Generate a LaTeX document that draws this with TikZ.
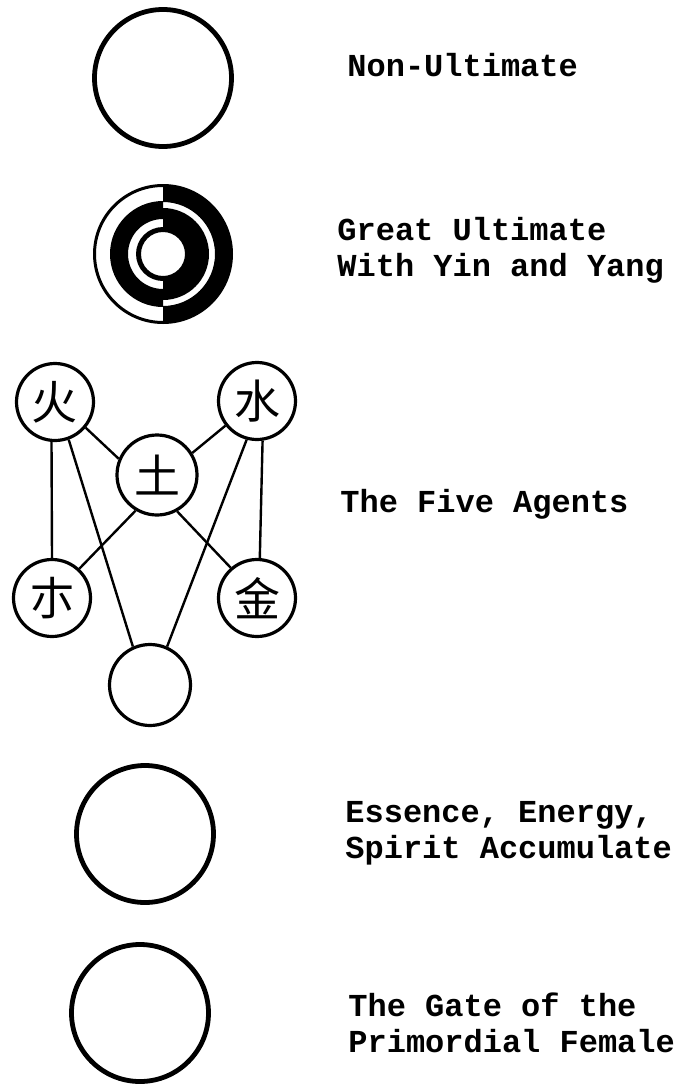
\documentclass[tikz,border=0pt]{standalone}
\usepackage{fontspec}
\setmonofont{Liberation Mono}
\newfontfamily\cjk{Noto Sans CJK SC}

\begin{document}
\begin{tikzpicture}[x=0.5pt,y=-0.5pt,
  big/.style={circle,draw,line width=2.4pt,inner sep=0pt,minimum size=68.5pt},
  agent/.style={circle,draw,line width=1.6pt,inner sep=0pt,minimum size=38.5pt,font=\cjk\fontsize{23}{23}\selectfont},
  lbl/.style={anchor=base west,inner sep=0pt,font=\ttfamily\bfseries\fontsize{16}{17.5}\selectfont},
  link/.style={line width=1.2pt},
]
\useasboundingbox (0,0) rectangle (681,1086);

% ---------------- Non-Ultimate ----------------
\coordinate (C1) at (163,78);
\node[big] (nonult) at (C1) {};
\node[lbl] (t1) at (347,76) {Non-Ultimate};

% ---------------- Great Ultimate ----------------
\coordinate (C2) at (163,254);
\begin{scope}
  \clip (90,180) rectangle (163,330);
  \fill[even odd rule] (C2) circle (70) (C2) circle (67) (C2) circle (53)
    (C2) circle (35) (C2) circle (27) (C2) circle (22);
\end{scope}
\begin{scope}
  \clip (163,180) rectangle (240,330);
  \fill[even odd rule] (C2) circle (70) (C2) circle (52) (C2) circle (46) (C2) circle (22);
\end{scope}
\node[lbl] (t2a) at (337,240) {Great Ultimate};
\node[lbl] (t2b) at (337,276) {With Yin and Yang};

% ---------------- Five Agents ----------------
\coordinate (fc) at (55,402);
\coordinate (wc) at (257,401);
\coordinate (ec) at (157,475);
\coordinate (mc) at (52,598);
\coordinate (jc) at (257,598);
\coordinate (hc) at (150,685);
\node[agent] (fire) at (fc) {火};
\node[agent] (water) at (wc) {水};
\node[agent,minimum size=40pt] (earth) at (ec) {土};
\node[agent] (wood) at (mc) {朩};
\node[agent] (metal) at (jc) {金};
\node[agent,minimum size=40.5pt] (hub) at (hc) {};
\draw[link] (fire.-95) -- (wood.90);
\draw[link] (fire.-40) -- (earth.157);
\draw[link] (fire.-70) -- (hub.114);
\draw[link] (water.-82) -- (metal.86);
\draw[link] (water.218) -- (earth.32);
\draw[link] (water.-105) -- (hub.66);
\draw[link] (earth.239) -- (wood.47);
\draw[link] (earth.-61) -- (metal.131);
\node[lbl] (t3) at (340,512) {The Five Agents};

% ---------------- Essence / Gate ----------------
\coordinate (C4) at (145,834);
\coordinate (C5) at (140,1013);
\node[big] (jing) at (C4) {};
\node[big] (gate) at (C5) {};
\node[lbl] (t4a) at (345,822) {Essence, Energy,};
\node[lbl] (t4b) at (345,858) {Spirit Accumulate};
\node[lbl] (t5a) at (348,1016) {The Gate of the};
\node[lbl] (t5b) at (348,1052) {Primordial Female};
\end{tikzpicture}
\end{document}
